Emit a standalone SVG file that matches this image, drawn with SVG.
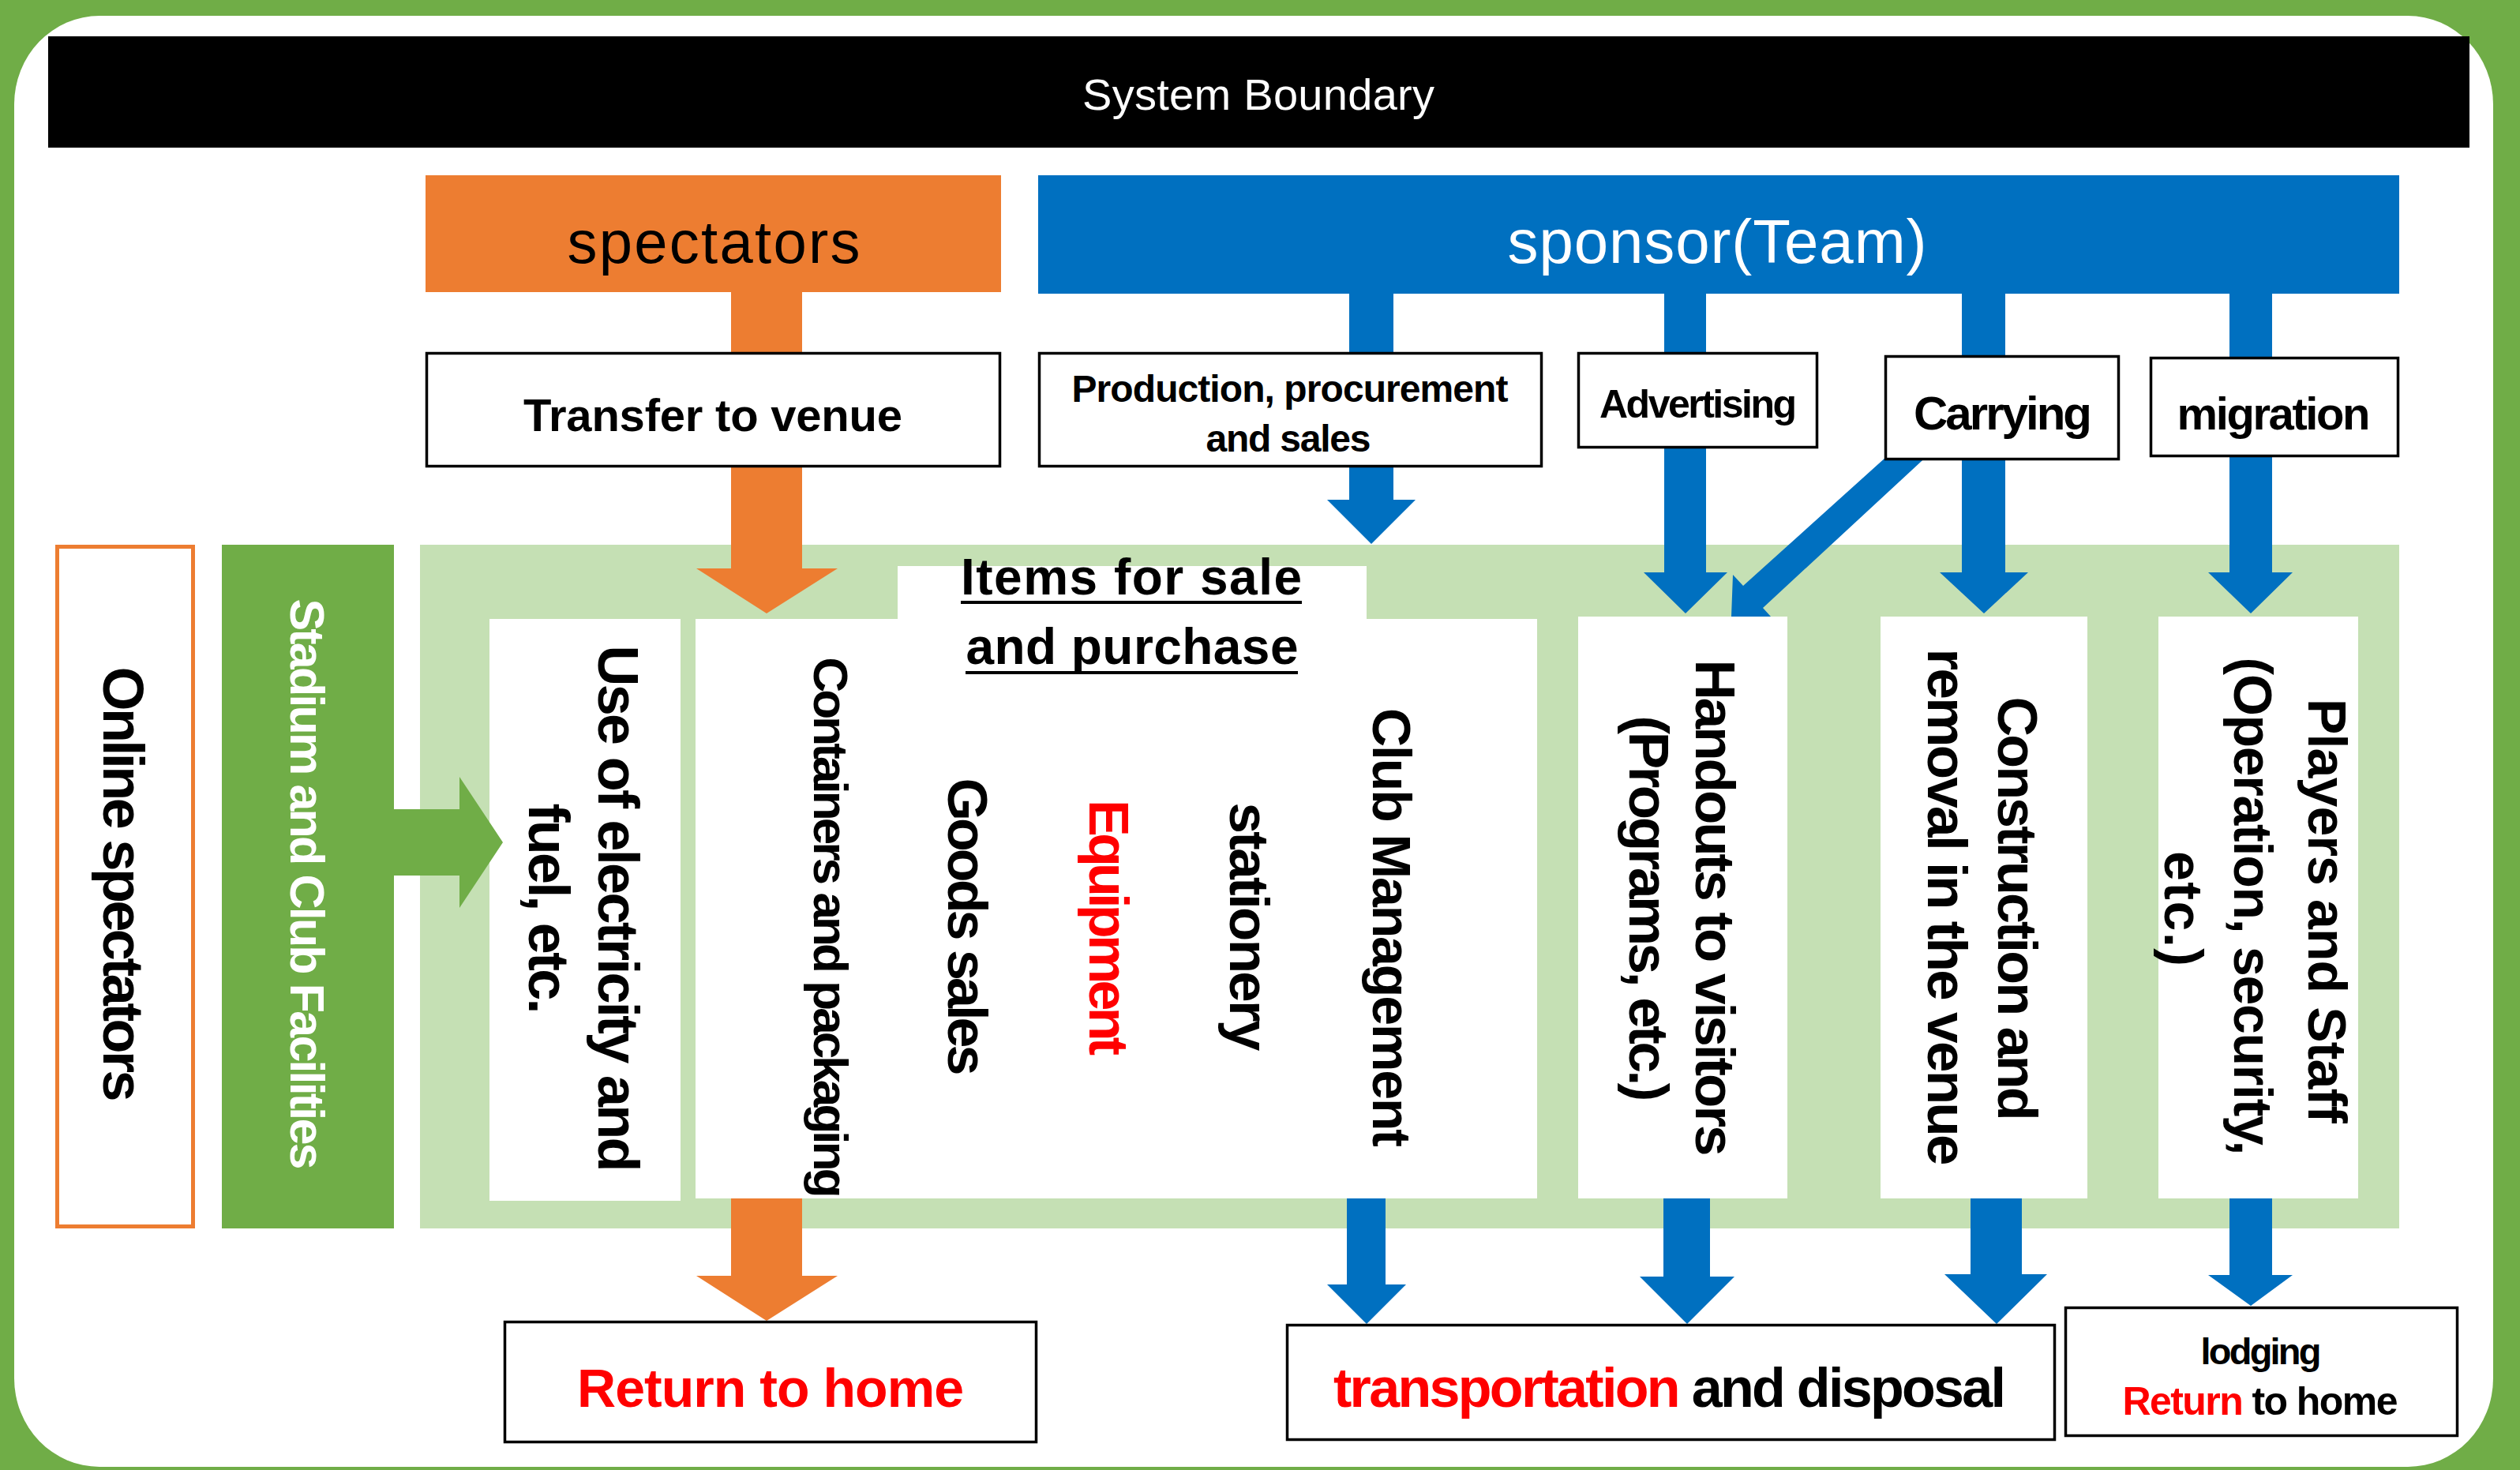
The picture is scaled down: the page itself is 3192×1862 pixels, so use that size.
<svg xmlns="http://www.w3.org/2000/svg" width="3192" height="1862" viewBox="0 0 3192 1862">
<style>
.t{font-family:"Liberation Sans",Arial,sans-serif;}
.b{font-weight:bold;}
.c{text-anchor:middle;}
.box{fill:#fff;stroke:#000;stroke-width:3.5;}
.wb{fill:#fff;}
.or{fill:#ED7D31;}
.bl{fill:#0070C0;}
.gr{fill:#70AD47;}
.red{fill:#FF0000;}
</style>
<rect x="0" y="0" width="3192" height="1862" fill="#70AD47"/>
<rect x="18" y="20" width="3140" height="1838" rx="108" ry="112" fill="#fff"/>

<g id="system-boundary">
<rect x="61" y="46" width="3067" height="141" fill="#000"/>
<text class="t c" x="1594" y="139" font-size="56" fill="#fff" textLength="446">System Boundary</text>
</g>

<g id="spectators">
<rect class="or" x="539" y="222" width="729" height="148"/>
<text class="t c" x="904" y="333" font-size="76" fill="#000" textLength="371">spectators</text>
</g>

<g id="sponsor">
<rect class="bl" x="1315" y="222" width="1724" height="150"/>
<text class="t c" x="2175" y="333" font-size="78" fill="#fff" textLength="531">sponsor(Team)</text>
</g>

<g id="panel">
<rect x="532" y="690" width="2507" height="866" fill="#C5E0B4"/>
</g>

<g id="online-spectators">
<rect x="72.5" y="692.5" width="172" height="861" fill="#fff" stroke="#ED7D31" stroke-width="5"/>
<text class="t b c" transform="translate(131,1120) rotate(90)" font-size="72" fill="#000" textLength="551">Online spectators</text>
</g>

<g id="stadium">
<rect class="gr" x="281" y="690" width="218" height="866"/>
<text class="t b c" transform="translate(368,1120) rotate(90)" font-size="61" fill="#fff" textLength="723">Stadium and Club Facilities</text>
</g>

<g id="electricity">
<rect class="wb" x="620" y="784" width="242" height="737"/>
<text class="t b c" transform="translate(758,1151) rotate(90)" font-size="72" fill="#000" textLength="667">Use of electricity and</text>
<text class="t b c" transform="translate(670,1151) rotate(90)" font-size="72" fill="#000" textLength="267">fuel, etc.</text>
</g>

<g id="items">
<rect class="wb" x="881" y="784" width="1066" height="734"/>
<rect class="wb" x="1137" y="717" width="594" height="70"/>
<text class="t b c" x="1433" y="753" font-size="64" fill="#000" textLength="432">Items for sale</text>
<rect x="1217" y="761" width="432" height="4" fill="#000"/>
<text class="t b c" x="1434" y="841" font-size="64" fill="#000" textLength="421">and purchase</text>
<rect x="1223" y="850" width="421" height="4" fill="#000"/>
<text class="t b c" transform="translate(1031,1175) rotate(90)" font-size="62" fill="#000" textLength="685">Containers and packaging</text>
<text class="t b c" transform="translate(1201,1174) rotate(90)" font-size="70" fill="#000" textLength="377">Goods sales</text>
<text class="t b c" transform="translate(1380,1175) rotate(90)" font-size="70" fill="#FF0000" textLength="324">Equipment</text>
<text class="t b c" transform="translate(1558,1174) rotate(90)" font-size="71" fill="#000" textLength="315">stationery</text>
<text class="t b c" transform="translate(1739,1175) rotate(90)" font-size="68" fill="#000" textLength="556">Club Management</text>
</g>

<g id="handouts">
<rect class="wb" x="1999" y="781" width="265" height="737"/>
<text class="t b c" transform="translate(2148,1150) rotate(90)" font-size="71" fill="#000" textLength="629">Handouts to visitors</text>
<text class="t b c" transform="translate(2064,1151) rotate(90)" font-size="71" fill="#000" textLength="489">(Programs, etc.)</text>
</g>

<g id="construction">
<rect class="wb" x="2382" y="781" width="262" height="737"/>
<text class="t b c" transform="translate(2531,1151) rotate(90)" font-size="70" fill="#000" textLength="537">Construction and</text>
<text class="t b c" transform="translate(2442,1149) rotate(90)" font-size="71" fill="#000" textLength="655">removal in the venue</text>
</g>

<g id="players">
<rect class="wb" x="2734" y="781" width="253" height="737"/>
<text class="t b c" transform="translate(2924,1154) rotate(90)" font-size="68" fill="#000" textLength="538">Players and Staff</text>
<text class="t b c" transform="translate(2830,1148) rotate(90)" font-size="68" fill="#000" textLength="631">(Operation, security,</text>
<text class="t b c" transform="translate(2742,1151) rotate(90)" font-size="68" fill="#000" textLength="146">etc.)</text>
</g>

<g id="connectors">
<polygon class="or" points="926,370 1016,370 1016,720 1061,720 971,777 882,720 926,720"/>
<polygon class="bl" points="1709,372 1765,372 1765,633 1793,633 1737,689 1681,633 1709,633"/>
<polygon class="bl" points="2108,372 2161,372 2161,725 2188,725 2135,777 2082,725 2108,725"/>
<polygon class="bl" points="2485,372 2540,372 2540,725 2569,725 2513,777 2457,725 2485,725"/>
<polygon class="bl" points="2824,372 2878,372 2878,725 2904,725 2851,777 2797,725 2824,725"/>
<polygon class="bl" points="2410,560 2460,560 2233,770 2243,781 2193,781 2195,728 2208,742"/>
<polygon class="gr" points="499,1025 582,1025 582,984 637,1067 582,1150 582,1109 499,1109"/>
<polygon class="or" points="926,1518 1016,1518 1016,1616 1061,1616 971,1673 882,1616 926,1616"/>
<polygon class="bl" points="1706,1518 1755,1518 1755,1627 1781,1627 1731,1677 1681,1627 1706,1627"/>
<polygon class="bl" points="2107,1518 2166,1518 2166,1617 2197,1617 2137,1677 2077,1617 2107,1617"/>
<polygon class="bl" points="2496,1518 2561,1518 2561,1614 2593,1614 2529,1677 2463,1614 2496,1614"/>
<polygon class="bl" points="2824,1518 2878,1518 2878,1615 2904,1615 2851,1654 2797,1615 2824,1615"/>
</g>

<g id="transfer">
<rect class="box" x="540.5" y="447.5" width="726" height="143"/>
<text class="t b c" x="903" y="546" font-size="58" fill="#000" textLength="480">Transfer to venue</text>
</g>

<g id="production">
<rect class="box" x="1316.5" y="447.5" width="636" height="143"/>
<text class="t b c" x="1634" y="509" font-size="48" fill="#000" textLength="553">Production, procurement</text>
<text class="t b c" x="1632" y="572" font-size="48" fill="#000" textLength="209">and sales</text>
</g>

<g id="advertising">
<rect class="box" x="1999.5" y="447.5" width="302" height="119"/>
<text class="t b c" x="2151" y="529" font-size="50" fill="#000" textLength="250">Advertising</text>
</g>

<g id="carrying">
<rect class="box" x="2388.5" y="451.5" width="295" height="130"/>
<text class="t b c" x="2537" y="544" font-size="60" fill="#000" textLength="226">Carrying</text>
</g>

<g id="migration">
<rect class="box" x="2724.5" y="453.5" width="313" height="124"/>
<text class="t b c" x="2880" y="544" font-size="58" fill="#000" textLength="245">migration</text>
</g>

<g id="return-home">
<rect class="box" x="639.5" y="1674.5" width="673" height="152"/>
<text class="t b c" x="976" y="1782" font-size="68" fill="#FF0000" textLength="490">Return to home</text>
</g>

<g id="transport-disposal">
<rect class="box" x="1630.5" y="1678.5" width="972" height="145"/>
<text class="t b c" x="2115" y="1782" font-size="70" fill="#000" textLength="852"><tspan fill="#FF0000">transportation</tspan> and disposal</text>
</g>

<g id="lodging">
<rect class="box" x="2616.5" y="1656.5" width="496" height="162"/>
<text class="t b c" x="2864" y="1728" font-size="47" fill="#000" textLength="153">lodging</text>
<text class="t b c" x="2863" y="1792" font-size="50" fill="#000" textLength="349"><tspan fill="#FF0000">Return</tspan> to home</text>
</g>
</svg>
